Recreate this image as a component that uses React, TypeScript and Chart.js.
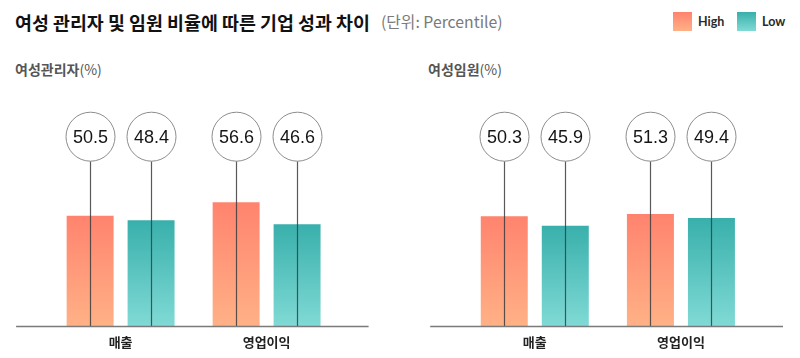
import React, { useEffect, useRef } from "react";
import { Chart, registerables } from "chart.js";

Chart.register(...registerables);

// ---- data ----
const categories = ["매출", "영업이익"];
const seriesNames = ["High", "Low"];
const managerHigh = [50.5, 56.6];
const managerLow = [48.4, 46.6];
const executiveHigh = [50.3, 51.3];
const executiveLow = [45.9, 49.4];
const yMax = 100;

const titleText = "여성 관리자 및 임원 비율에 따른 기업 성과 차이";
const unitText = "(단위: Percentile)";
const panelTitles = ["여성관리자", "여성임원"];
const panelUnit = "(%)";

const highTop = "#FF836E";
const highBottom = "#FFB186";
const lowTop = "#38AFAB";
const lowBottom = "#80DAD5";

const KR = "'Noto Sans CJK KR', 'Noto Sans', sans-serif";

function gradientFill(top: string, bottom: string) {
  return (ctx: any) => {
    const chart = ctx.chart;
    const yScale = chart.scales?.y;
    const raw = ctx.raw;
    if (!yScale || typeof raw !== "number") return top;
    const y0 = yScale.getPixelForValue(raw);
    const y1 = yScale.getPixelForValue(0);
    if (!isFinite(y0) || !isFinite(y1) || y0 === y1) return top;
    const g = chart.ctx.createLinearGradient(0, y0, 0, y1);
    g.addColorStop(0, top);
    g.addColorStop(1, bottom);
    return g;
  };
}

const baselinePlugin = {
  id: "baseline",
  afterDatasetsDraw(chart: any) {
    const { ctx, chartArea } = chart;
    const y = Math.round(chart.scales.y.getPixelForValue(0)) + 0.5;
    ctx.save();
    ctx.strokeStyle = "#7a7a7a";
    ctx.lineWidth = 1.3;
    ctx.beginPath();
    ctx.moveTo(chartArea.left - 31.5, y);
    ctx.lineTo(chartArea.right + 29, y);
    ctx.stroke();
    ctx.restore();
  },
};

const bubblePlugin = {
  id: "bubbles",
  afterDatasetsDraw(chart: any) {
    const { ctx, chartArea } = chart;
    const base = chart.scales.y.getPixelForValue(0);
    const r = 24.5;
    const cy = chartArea.top + 31;
    chart.data.datasets.forEach((ds: any, di: number) => {
      const meta = chart.getDatasetMeta(di);
      meta.data.forEach((bar: any, i: number) => {
        const x = Math.round(bar.x) + 0.5;
        ctx.save();
        ctx.strokeStyle = "rgba(60,60,60,0.85)";
        ctx.lineWidth = 1.2;
        ctx.beginPath();
        ctx.moveTo(x, cy + r);
        ctx.lineTo(x, base);
        ctx.stroke();
        ctx.beginPath();
        ctx.arc(x, cy, r, 0, Math.PI * 2);
        ctx.fillStyle = "#ffffff";
        ctx.fill();
        ctx.strokeStyle = "#8c8c8c";
        ctx.lineWidth = 1;
        ctx.stroke();
        ctx.fillStyle = "#151515";
        ctx.font = "18px 'Liberation Sans', Arial, sans-serif";
        ctx.textAlign = "center";
        ctx.textBaseline = "middle";
        ctx.fillText(Number(ds.data[i]).toFixed(1), x, cy + 1);
        ctx.restore();
      });
    });
  },
};

function BarPanel(props: { high: number[]; low: number[]; padLeft: number; padRight: number; left: number }) {
  const ref = useRef<HTMLCanvasElement | null>(null);
  useEffect(() => {
    if (!ref.current) return;
    const chart = new Chart(ref.current, {
      type: "bar",
      data: {
        labels: categories,
        datasets: [
          {
            label: seriesNames[0],
            data: props.high,
            backgroundColor: gradientFill(highTop, highBottom) as any,
            borderColor: "rgba(255,255,255,0.35)",
            borderWidth: 1,
          },
          {
            label: seriesNames[1],
            data: props.low,
            backgroundColor: gradientFill(lowTop, lowBottom) as any,
            borderColor: "rgba(255,255,255,0.35)",
            borderWidth: 1,
          },
        ],
      },
      options: {
        responsive: false,
        maintainAspectRatio: false,
        animation: false,
        layout: { padding: { left: props.padLeft, right: props.padRight, top: 15.7, bottom: 0.5 } },
        datasets: { bar: { categoryPercentage: 0.835, barPercentage: 0.803 } } as any,
        plugins: { legend: { display: false }, tooltip: { enabled: false } },
        scales: {
          x: {
            grid: { display: false, drawTicks: false },
            border: { display: false },
            ticks: { color: "#222", padding: 8, font: { family: KR, size: 13, weight: "bold" } },
          },
          y: { display: false, min: 0, max: yMax },
        },
      },
      plugins: [baselinePlugin, bubblePlugin],
    });
    return () => chart.destroy();
  }, []);
  return (
    <canvas
      ref={ref}
      width={400}
      height={268}
      style={{ position: "absolute", left: props.left, top: 90, width: 400, height: 268 }}
    />
  );
}

function LegendItem(props: { x: number; name: string; top: string; bottom: string }) {
  return (
    <>
      <div
        style={{
          position: "absolute",
          left: props.x,
          top: 12,
          width: 19,
          height: 19,
          background: `linear-gradient(${props.top}, ${props.bottom})`,
        }}
      />
      <div
        style={{
          position: "absolute",
          left: props.x + 25,
          top: 12,
          height: 19,
          lineHeight: "19px",
          fontFamily: "Lato, 'Noto Sans', sans-serif",
          fontWeight: 700,
          fontSize: 12.5,
          color: "#2a2a2a",
        }}
      >
        {props.name}
      </div>
    </>
  );
}

export default function App() {
  return (
    <div style={{ position: "absolute", left: 0, top: 0, width: 800, height: 358, background: "#fff", overflow: "hidden" }}>
      <div
        style={{
          position: "absolute",
          left: 15,
          top: 9,
          lineHeight: "26px",
          fontFamily: KR,
          fontWeight: 700,
          fontSize: 18.4,
          color: "#111",
          whiteSpace: "nowrap",
        }}
      >
        {titleText}
      </div>
      <div
        style={{
          position: "absolute",
          left: 381,
          top: 9,
          lineHeight: "26px",
          fontFamily: KR,
          fontWeight: 400,
          fontSize: 15.8,
          color: "#7a7a7a",
          whiteSpace: "nowrap",
        }}
      >
        {unitText}
      </div>
      <LegendItem x={673} name={seriesNames[0]} top={highTop} bottom={highBottom} />
      <LegendItem x={737} name={seriesNames[1]} top={lowTop} bottom={lowBottom} />
      {[15, 428].map((x, i) => (
        <div
          key={i}
          style={{
            position: "absolute",
            left: x,
            top: 58,
            lineHeight: "22px",
            fontFamily: KR,
            fontSize: 14,
            color: "#555",
            whiteSpace: "nowrap",
          }}
        >
          <span style={{ fontWeight: 700 }}>{panelTitles[i]}</span>
          <span style={{ fontWeight: 400 }}>{panelUnit}</span>
        </div>
      ))}
      <BarPanel high={managerHigh} low={managerLow} padLeft={47.6} padRight={60.4} left={0} />
      <BarPanel high={executiveHigh} low={executiveLow} padLeft={61.7} padRight={46} left={400} />
    </div>
  );
}
